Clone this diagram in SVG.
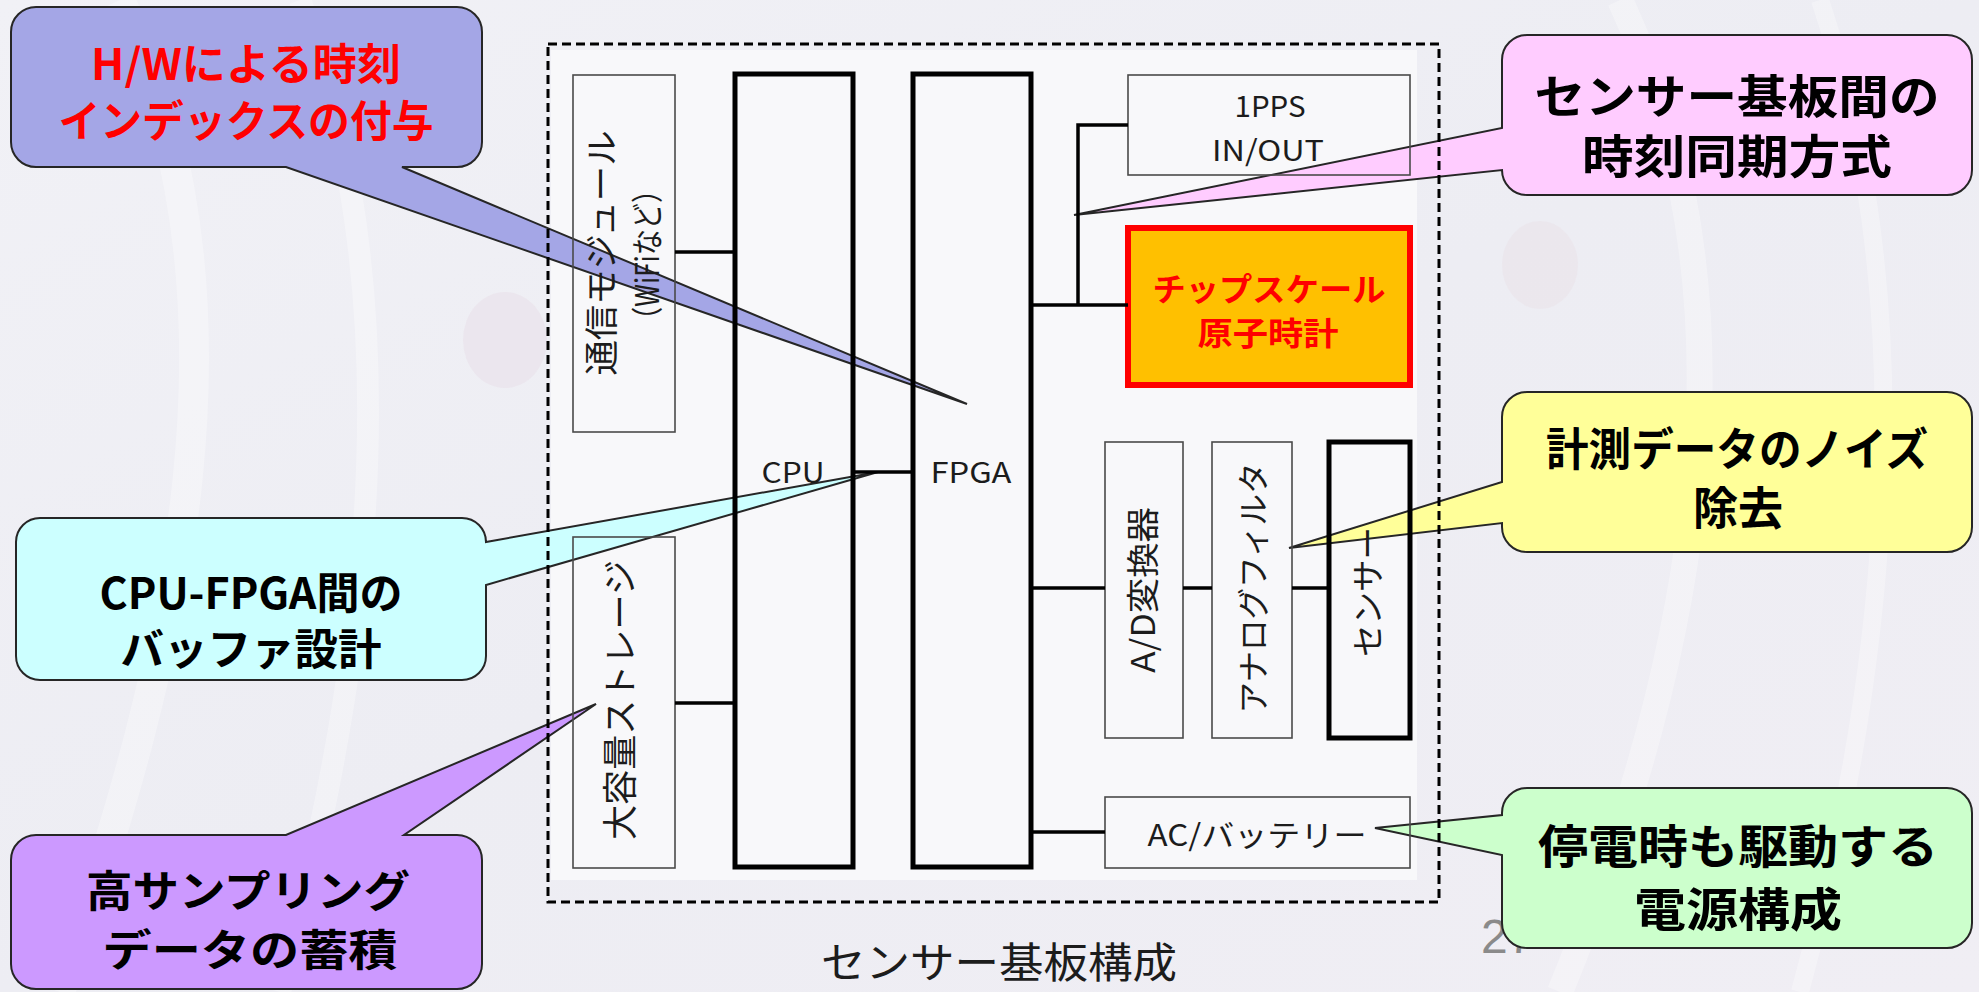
<svg xmlns="http://www.w3.org/2000/svg" width="1979" height="992" viewBox="0 0 1979 992">
<defs>
<linearGradient id="bg" x1="0" y1="0" x2="1" y2="1">
<stop offset="0" stop-color="#F1F1F6"/>
<stop offset="0.5" stop-color="#EDEDF3"/>
<stop offset="1" stop-color="#F0EEF4"/>
</linearGradient>
<style>
.lbl{font-family:"Noto Sans CJK JP","Noto Sans",sans-serif;fill:#1c1c1c;text-anchor:middle}
.thin{fill:none;stroke:#4a4a4a;stroke-width:1.6}
.thick{fill:none;stroke:#000;stroke-width:5}
.wire{fill:none;stroke:#000;stroke-width:3.5}
.co{stroke:#262626;stroke-width:2}
.cot{font-family:"Noto Sans CJK JP",sans-serif;font-weight:700;text-anchor:middle;fill:#000}
.swirl{fill:none;stroke:#FFFFFF;stroke-opacity:0.3}
</style>
</defs>

<g id="background">
<rect x="0" y="0" width="1979" height="992" fill="url(#bg)"/>
<path class="swirl" stroke-width="30" d="M120,0 C260,300 180,650 60,992"/>
<path class="swirl" stroke-width="22" d="M300,0 C420,320 360,700 280,992"/>
<path class="swirl" stroke-width="26" d="M1620,0 C1760,300 1700,650 1560,992"/>
<path class="swirl" stroke-width="18" d="M1820,0 C1930,330 1880,700 1800,992"/>
<ellipse cx="505" cy="340" rx="42" ry="48" fill="#E6D8E2" opacity="0.35"/>
<ellipse cx="1540" cy="265" rx="38" ry="44" fill="#E8DCE2" opacity="0.3"/>
<rect x="551" y="50" width="866" height="830" fill="#F8F8FA"/>
</g>

<text id="page-number" x="1481" y="953" font-family="Liberation Sans, sans-serif" font-size="48" fill="#8a8a8a">27</text>

<g id="callout-hw-time">
<path class="co" fill="#A4A6E6" d="M36,7 H457 A25,25 0 0 1 482,32 V142 A25,25 0 0 1 457,167 H402 L967,404 L286,167 H36 A25,25 0 0 1 11,142 V32 A25,25 0 0 1 36,7 Z"/>
<text class="cot" font-size="43" style="fill:#FF0000"><tspan x="246" y="80" textLength="310" lengthAdjust="spacingAndGlyphs">H/Wによる時刻</tspan><tspan x="246" y="137" textLength="375" lengthAdjust="spacingAndGlyphs">インデックスの付与</tspan></text>
</g>

<g id="callout-sync">
<path class="co" fill="#FFCCFF" d="M1527,35 H1947 A25,25 0 0 1 1972,60 V170 A25,25 0 0 1 1947,195 H1527 A25,25 0 0 1 1502,170 L1074,215 L1502,128 V60 A25,25 0 0 1 1527,35 Z"/>
<text class="cot" font-size="46"><tspan x="1737" y="113" textLength="405" lengthAdjust="spacingAndGlyphs">センサー基板間の</tspan><tspan x="1737" y="173" textLength="310" lengthAdjust="spacingAndGlyphs">時刻同期方式</tspan></text>
</g>

<g id="callout-noise">
<path class="co" fill="#FFFF99" d="M1527,392 H1947 A25,25 0 0 1 1972,417 V527 A25,25 0 0 1 1947,552 H1527 A25,25 0 0 1 1502,527 V523 L1289,548 L1502,482 V417 A25,25 0 0 1 1527,392 Z"/>
<text class="cot" font-size="45"><tspan x="1737" y="466" textLength="382" lengthAdjust="spacingAndGlyphs">計測データのノイズ</tspan><tspan x="1738" y="525" textLength="90" lengthAdjust="spacingAndGlyphs">除去</tspan></text>
</g>

<g id="callout-buffer">
<path class="co" fill="#CCFFFF" d="M40,518 H462 A24,24 0 0 1 486,542 L878,472 L486,585 V656 A24,24 0 0 1 462,680 H40 A24,24 0 0 1 16,656 V542 A24,24 0 0 1 40,518 Z"/>
<text class="cot" font-size="43"><tspan x="251" y="609" textLength="303" lengthAdjust="spacingAndGlyphs">CPU-FPGA間の</tspan><tspan x="251" y="665" textLength="261" lengthAdjust="spacingAndGlyphs">バッファ設計</tspan></text>
</g>

<g id="callout-storage">
<path class="co" fill="#CC99FF" d="M36,835 H286 L596,704 L404,835 H457 A25,25 0 0 1 482,860 V964 A25,25 0 0 1 457,989 H36 A25,25 0 0 1 11,964 V860 A25,25 0 0 1 36,835 Z"/>
<text class="cot" font-size="43"><tspan x="248" y="907" textLength="324" lengthAdjust="spacingAndGlyphs">高サンプリング</tspan><tspan x="250" y="966" textLength="295" lengthAdjust="spacingAndGlyphs">データの蓄積</tspan></text>
</g>

<g id="callout-power">
<path class="co" fill="#CCFFCC" d="M1527,788 H1947 A25,25 0 0 1 1972,813 V923 A25,25 0 0 1 1947,948 H1527 A25,25 0 0 1 1502,923 V855 L1375,828 L1502,815 V813 A25,25 0 0 1 1527,788 Z"/>
<text class="cot" font-size="46"><tspan x="1738" y="863" textLength="400" lengthAdjust="spacingAndGlyphs">停電時も駆動する</tspan><tspan x="1738" y="926" textLength="208" lengthAdjust="spacingAndGlyphs">電源構成</tspan></text>
</g>

<g id="board-frame">
<rect x="548" y="44" width="891" height="858" fill="none" stroke="#000" stroke-width="3" stroke-dasharray="9,5"/>
</g>

<g id="comm-module">
<rect class="thin" x="573" y="75" width="102" height="357"/>
<text class="lbl" transform="translate(601,253) rotate(-90)" x="0" y="13" font-size="34" textLength="245" lengthAdjust="spacingAndGlyphs">通信モジュール</text>
<text class="lbl" transform="translate(647,255) rotate(-90)" x="0" y="12" font-size="32" textLength="156" lengthAdjust="spacingAndGlyphs">（WiFiなど）</text>
</g>

<g id="storage">
<rect class="thin" x="573" y="537" width="102" height="331"/>
<text class="lbl" transform="translate(620,700) rotate(-90)" x="0" y="13" font-size="35" textLength="280" lengthAdjust="spacingAndGlyphs">大容量ストレージ</text>
</g>

<g id="cpu">
<rect class="thick" x="735" y="74" width="118" height="793"/>
<text class="lbl" x="793" y="483" font-size="28" textLength="63" lengthAdjust="spacingAndGlyphs">CPU</text>
</g>

<g id="fpga">
<rect class="thick" x="913" y="74" width="118" height="793"/>
<text class="lbl" x="971" y="483" font-size="28" textLength="81" lengthAdjust="spacingAndGlyphs">FPGA</text>
</g>

<g id="pps">
<rect class="thin" x="1128" y="75" width="282" height="100"/>
<text class="lbl" font-size="29"><tspan x="1270" y="117" textLength="71" lengthAdjust="spacingAndGlyphs">1PPS</tspan><tspan x="1268" y="161" textLength="112" lengthAdjust="spacingAndGlyphs">IN/OUT</tspan></text>
</g>

<g id="atomic-clock">
<rect x="1128" y="228" width="282" height="157" fill="#FFC000" stroke="#FF0000" stroke-width="6"/>
<text class="lbl" font-size="32" font-weight="700" style="fill:#FF0000"><tspan x="1269" y="301" textLength="233" lengthAdjust="spacingAndGlyphs">チップスケール</tspan><tspan x="1268" y="345" textLength="141" lengthAdjust="spacingAndGlyphs">原子時計</tspan></text>
</g>

<g id="ad-converter">
<rect class="thin" x="1105" y="442" width="78" height="296"/>
<text class="lbl" transform="translate(1143,590) rotate(-90)" x="0" y="12" font-size="33" textLength="166" lengthAdjust="spacingAndGlyphs">A/D変換器</text>
</g>

<g id="analog-filter">
<rect class="thin" x="1212" y="442" width="80" height="296"/>
<text class="lbl" transform="translate(1253,588) rotate(-90)" x="0" y="12" font-size="32" textLength="251" lengthAdjust="spacingAndGlyphs">アナログフィルタ</text>
</g>

<g id="sensor">
<rect class="thick" x="1329" y="442" width="81" height="296"/>
<text class="lbl" transform="translate(1368,592) rotate(-90)" x="0" y="12" font-size="33" textLength="130" lengthAdjust="spacingAndGlyphs">センサー</text>
</g>

<g id="power">
<rect class="thin" x="1105" y="797" width="305" height="71"/>
<text class="lbl" x="1257" y="846" font-size="30" textLength="219" lengthAdjust="spacingAndGlyphs">AC/バッテリー</text>
</g>

<g id="connectors">
<line class="wire" x1="675" y1="252" x2="735" y2="252"/>
<line class="wire" x1="675" y1="703" x2="735" y2="703"/>
<line class="wire" x1="853" y1="472" x2="913" y2="472"/>
<line class="wire" x1="1031" y1="305" x2="1128" y2="305"/>
<polyline class="wire" points="1128,125 1078,125 1078,305"/>
<line class="wire" x1="1031" y1="588" x2="1105" y2="588"/>
<line class="wire" x1="1183" y1="588" x2="1212" y2="588"/>
<line class="wire" x1="1292" y1="588" x2="1329" y2="588"/>
<line class="wire" x1="1031" y1="832" x2="1105" y2="832"/>
</g>

<text id="caption" class="lbl" x="999" y="978" font-size="42" textLength="356" lengthAdjust="spacingAndGlyphs">センサー基板構成</text>
</svg>
